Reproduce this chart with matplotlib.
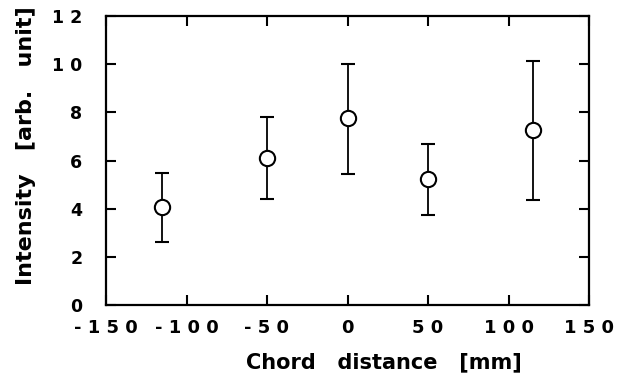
import matplotlib
matplotlib.use("Agg")
import matplotlib.pyplot as plt
from matplotlib.ticker import FuncFormatter

# data
chord = [-115, -50, 0, 50, 115]
intensity = [4.05, 6.1, 7.75, 5.25, 7.25]
err_low = [2.6, 4.4, 5.45, 3.75, 4.35]
err_high = [5.5, 7.8, 10.0, 6.7, 10.15]

xticks = [-150, -100, -50, 0, 50, 100, 150]
yticks = [0, 2, 4, 6, 8, 10, 12]

plt.rcParams['font.family'] = ['DejaVu Sans']
plt.rcParams['font.weight'] = 'bold'

fig = plt.figure(figsize=(6.26, 3.77), dpi=100)
ax = fig.add_axes([106 / 626, 1 - 305 / 377, 483 / 626, 289 / 377])

yerr = [[v - lo for v, lo in zip(intensity, err_low)],
        [hi - v for v, hi in zip(intensity, err_high)]]
ax.errorbar(chord, intensity, yerr=yerr, fmt='o', mfc='white', mec='black',
            mew=1.5, ms=11, ecolor='black', elinewidth=1.3, capsize=5,
            capthick=1.6)

ax.set_xlim(-150, 150)
ax.set_ylim(0, 12)
ax.set_xticks(xticks)
ax.set_yticks(yticks)

# the original print has widely spaced digits
spaced = FuncFormatter(lambda v, p: " ".join(str(int(v))))
ax.xaxis.set_major_formatter(spaced)
ax.yaxis.set_major_formatter(spaced)

ax.tick_params(direction='in', length=7, width=1.5, top=True, right=True)
ax.tick_params(axis='x', labelsize=13, pad=10)
ax.tick_params(axis='y', labelsize=12.5, pad=17)
for s in ax.spines.values():
    s.set_linewidth(1.6)

ax.text(0.575, -0.197, "Chord   distance   [mm]", transform=ax.transAxes,
        ha='center', va='center', fontsize=15, fontweight='bold')
ax.text(-0.165, 0.55, "Intensity   [arb.   unit]", transform=ax.transAxes,
        ha='center', va='center', rotation=90, fontsize=16, fontweight='bold')

fig.savefig("out.png", dpi=100)
